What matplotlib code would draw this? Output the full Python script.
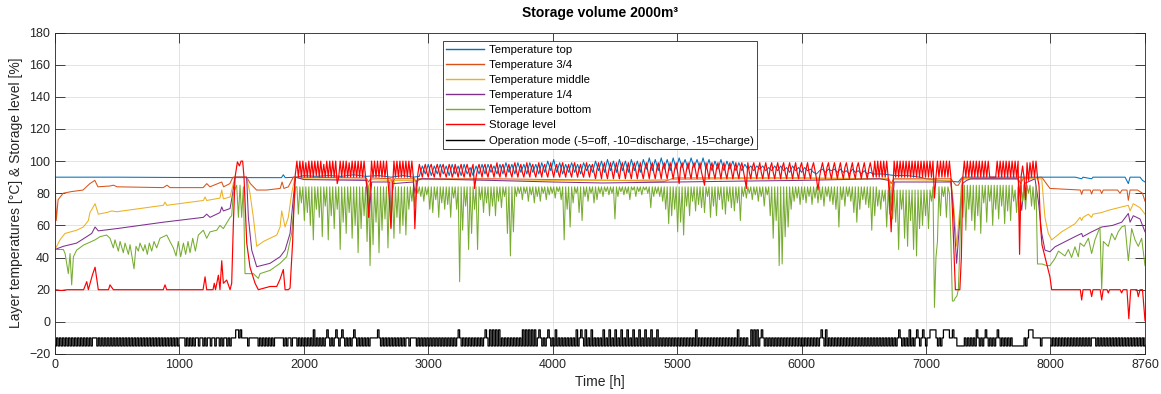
import numpy as np
import matplotlib.pyplot as plt

plt.rcParams['font.family'] = ['Liberation Sans', 'DejaVu Sans']

# ---------------------------------------------------------------------------
# Data.  Smooth parts are given as (hour, value) pairs,
# the parts that cycle every day are given as values on a fixed time step.
# ---------------------------------------------------------------------------

# Temperature top
top_h1 = [0, 500, 1000, 1500, 1820, 1835, 1850, 1944, 2000, 2100, 2200, 2300, 2400,
          2500, 2600, 2700, 2800, 2880, 2928]
top_v1 = [90, 90, 89.8, 89.7, 89.7, 91.5, 89.7, 90, 91, 90.5, 91, 90.5, 91.5,
          90.5, 91, 90, 91, 90, 90.5]
top_start, top_step = 2952, 24   # h
top_cycle = [
    97, 92, 98, 91, 97, 92, 98, 92, 97, 91,
    98, 92, 97, 91, 98, 92, 96, 91, 97, 92,
    98, 92, 98, 93, 97, 92, 98, 92, 99, 93,
    98, 92, 99, 93, 98, 92, 99, 93, 98, 92,
    99, 93, 100, 94, 101, 93, 99, 92, 98, 93,
    99, 93, 98, 92, 99, 94, 98, 93, 100, 94,
    100, 93, 101, 94, 100, 93, 101, 94, 100, 93,
    101, 94, 100, 93, 101, 95, 102, 94, 101, 94,
    102, 95, 101, 94, 102, 95, 102, 96, 101, 95,
    102, 96, 101, 95, 102, 95, 101, 94, 100, 95,
    101, 94, 100, 95, 100, 94, 99, 94, 98, 95,
    97, 94, 97, 95, 97, 94, 96, 94, 97, 94,
    97, 94, 96, 93, 97, 94, 96, 93, 96, 94,
    95, 93, 92, 94, 95, 93, 95, 94, 95, 93,
    95, 93, 94, 92, 95, 93, 94, 92, 94, 92,
    93, 92, 92]
top_h3 = [6650, 6700, 6750, 6850, 6950, 7000, 7100, 7200, 7260, 7292, 7400, 8200,
          8251, 8262, 8331, 8342, 8600, 8626, 8640, 8720, 8740, 8760]
top_v3 = [92, 91.5, 91, 91, 90, 89, 88, 87.5, 87, 90, 90, 90,
          89, 90, 89, 90, 90, 86, 90, 90, 88, 87]

# Temperature 3/4
q3_h = [0, 10, 25, 65, 130, 225, 280, 320, 345, 440, 470, 500, 870, 900, 925, 1190,
        1220, 1245, 1340, 1355, 1405, 1430, 1540, 1570, 1620, 1700, 1810, 1825, 1840,
        1875, 1915, 1944, 2500, 2520, 2540, 2700, 2710, 2730, 2890, 2900, 2920, 3500,
        4000, 4500, 4900, 4980, 5500, 6000, 6700, 6720, 6740, 7200, 7240, 7260, 7290,
        7740, 7760, 7780, 7930, 7996, 8240, 8251, 8262, 8320, 8331, 8342, 8400, 8412,
        8424, 8540, 8559, 8575, 8615, 8626, 8640, 8700, 8720, 8740, 8760]
q3_v = [90, 63, 76, 80, 81, 82, 86, 88, 84, 84.5, 85, 84, 83.5, 85, 83.5, 83.5,
        86, 84, 87, 84, 86, 90, 90, 86, 82, 82, 83, 87, 83,
        84, 90, 90, 89.5, 87, 89.5, 89, 86, 89, 89, 87, 89, 89,
        88.5, 88, 87.5, 89.5, 89.5, 89.5, 89, 86, 89, 89, 85, 85, 89,
        89, 86, 89, 90, 83, 82, 79.3, 82, 82, 79.5, 82, 82, 79.8,
        82, 82, 80, 82, 82, 75.6, 82, 82, 81, 80, 75]

# Temperature middle
mid_h = [0, 40, 80, 174, 228, 268, 281, 322, 348, 415, 456, 496, 871, 884, 898, 1192,
         1206, 1219, 1326, 1340, 1353, 1407, 1433, 1447, 1540, 1567, 1594, 1621, 1675,
         1782, 1809, 1822, 1849, 1875, 1902, 1929, 2000, 2500, 2520, 2540, 2700, 2710,
         2730, 2890, 2905, 2920, 3500, 4000, 4500, 5000, 5500, 6000, 6700, 6720, 6740,
         7200, 7220, 7247, 7260, 7292, 7740, 7755, 7770, 7930, 7956, 7983, 8010, 8090,
         8197, 8238, 8251, 8262, 8305, 8331, 8342, 8412, 8465, 8573, 8626, 8640, 8666,
         8720, 8760]
mid_v = [45, 51, 55, 57, 59, 63, 68, 73.5, 67, 68, 69, 68.5, 72.5, 74.5, 72.5, 75.5,
         77.7, 75.5, 77, 82, 76.5, 77.7, 86, 90, 90, 80, 65, 47, 50,
         54, 59, 69, 59, 65, 80, 90, 89, 88.5, 84, 88.5, 88, 80,
         88, 88, 84, 88.5, 88.5, 88, 88, 88.5, 89, 89, 89, 82, 88.5,
         88, 75, 47, 60, 89, 89, 80, 89, 89, 65, 55, 51, 56,
         61, 65, 63, 65, 67, 65, 67, 68, 69.4, 71.5, 72.5, 69, 73.5,
         71, 67]

# Temperature 1/4
q1_h = [0, 67, 174, 255, 295, 322, 348, 496, 871, 1192, 1219, 1246, 1326, 1340, 1353,
        1407, 1428, 1447, 1540, 1554, 1581, 1621, 1728, 1809, 1849, 1889, 1916, 1934,
        2000, 2500, 2525, 2545, 2690, 2700, 2715, 2880, 2893, 2910, 2950, 3500, 4000,
        4400, 5000, 5560, 6000, 6630, 6700, 6724, 6745, 7200, 7220, 7246, 7273, 7292,
        7327, 7360, 7740, 7769, 7790, 7876, 7903, 7930, 7956, 7996, 8037, 8197, 8251,
        8260, 8331, 8412, 8500, 8573, 8626, 8640, 8666, 8720, 8760]
q1_v = [45, 47, 49, 53, 55, 59, 56.6, 58, 62, 65, 67, 65, 68, 71.5, 69,
        70.5, 80, 90, 90, 65, 44.6, 34.3, 36.4, 40.5, 44.6, 55, 77.7, 90,
        88.5, 88, 65, 87, 87, 62, 86, 87, 80, 88, 89, 88, 87,
        86.4, 87, 87.6, 88, 89, 88, 69.4, 87, 87, 70, 36.4, 65, 86,
        88, 89, 89, 69.4, 86, 89, 75, 55, 44.6, 43.6, 46.7, 53, 55,
        53, 56, 59, 60, 62, 67.4, 62, 66, 64, 56]

# Temperature bottom
bot_h1 = [0, 67, 81, 107, 121, 134, 148, 174, 228, 322, 362, 415, 442, 469, 482, 509,
          523, 549, 563, 590, 603, 635, 651, 670, 683, 710, 723, 742, 758, 777, 796,
          817, 844, 898, 924, 951, 973, 991, 1010, 1032, 1050, 1069, 1085, 1107, 1128,
          1152, 1192, 1219, 1246, 1300, 1326, 1353, 1407, 1420, 1433, 1460, 1474, 1487,
          1500, 1514, 1527, 1594, 1621, 1634, 1648, 1728, 1809, 1862, 1902, 1934]
bot_v1 = [45, 45, 42.5, 30, 42.5, 23, 40.5, 44.6, 47.7, 51, 53, 54, 52, 46, 51, 44,
          50, 43, 49, 42, 48, 33, 47, 44, 49, 44, 48, 42, 49, 44, 50,
          46, 52, 54, 50, 46, 41, 50, 40.5, 49, 42, 50, 43, 52, 44,
          54, 57, 52, 56, 57, 60, 58, 65, 66, 80, 85, 65, 85,
          65, 84, 30, 30, 28, 27, 30, 32, 36.4, 40.5, 55, 84]
cyc_start, cyc_step = 1944, 12   # h, grid of the daily cycling parts
bot_cycle = [
    84, 67, 84, 74, 84, 63, 84, 68, 84, 60,
    84, 51, 84, 70, 84, 65, 84, 53, 84, 72,
    84, 51, 84, 66, 84, 58, 84, 70, 84, 45,
    84, 62, 84, 55, 84, 68, 84, 52, 84, 60,
    84, 43, 84, 58, 84, 66, 84, 50, 84, 35,
    80, 48, 84, 62, 84, 43, 84, 57, 84, 64,
    84, 46, 84, 59, 84, 52, 84, 65, 84, 55,
    84, 60, 84, 54, 84, 70, 84, 75, 84, 72,
    84, 80, 84, 78, 84, 75, 84, 79, 84, 70,
    84, 68, 84, 76, 84, 65, 84, 74, 84, 70,
    84, 73, 84, 65, 84, 77, 84, 70, 84, 25,
    84, 57, 84, 72, 84, 45, 84, 55, 84, 70,
    84, 45, 84, 76, 84, 68, 84, 74, 84, 66,
    84, 72, 84, 66, 84, 75, 84, 71, 84, 78,
    84, 55, 84, 41, 84, 56, 84, 78, 84, 80,
    84, 76, 84, 80, 84, 75, 84, 79, 84, 74,
    84, 78, 84, 75, 84, 80, 84, 76, 84, 79,
    84, 80, 84, 77, 84, 81, 84, 76, 84, 51,
    84, 70, 84, 59, 84, 74, 84, 80, 84, 68,
    84, 63, 84, 78, 84, 75, 84, 80, 84, 74,
    84, 76, 84, 80, 84, 78, 84, 81, 84, 79,
    84, 80, 84, 64, 84, 78, 84, 81, 84, 79,
    84, 80, 84, 76, 84, 82, 84, 78, 84, 81,
    84, 79, 84, 82, 84, 80, 84, 71, 84, 78,
    84, 80, 84, 78, 84, 75, 84, 70, 84, 61,
    84, 66, 84, 70, 84, 56, 84, 62, 84, 54,
    84, 72, 84, 66, 84, 75, 84, 69, 84, 73,
    84, 71, 84, 68, 84, 78, 84, 65, 84, 72,
    84, 66, 84, 76, 84, 70, 84, 67, 84, 75,
    84, 71, 84, 69, 84, 74, 84, 63, 84, 78,
    84, 77, 84, 80, 84, 76, 84, 79, 84, 75,
    84, 78, 84, 72, 84, 79, 84, 66, 84, 52,
    84, 63, 84, 35, 84, 36, 84, 53, 84, 59,
    84, 70, 84, 75, 84, 77, 84, 73, 84, 76,
    84, 74, 84, 78, 84, 73, 84, 77, 84, 74,
    84, 76, 84, 72, 84, 78, 84, 75, 84, 73,
    84, 70, 84, 59, 84, 76, 84, 72, 84, 78,
    84, 75, 84, 68, 84, 62, 84, 70, 84, 76,
    84, 73, 84, 71, 84, 57, 84, 66, 84, 72,
    82, 70, 82, 75, 82, 59, 82, 67, 82, 64,
    82, 62, 82, 45, 82, 70, 82, 52, 82, 47,
    82, 63, 82, 45, 82, 41, 82, 58, 82, 60,
    82, 66, 82, 58, 82, 75, 84, 9, 40, 50,
    84, 66, 84, 78, 84, 65, 84, 80, 50, 13,
    13, 15, 16, 20, 46, 85, 65, 85, 57, 85,
    70, 85, 63, 85, 57, 85, 66, 85, 55, 85,
    74, 85, 62, 85, 75, 85, 60, 85, 70, 85,
    64, 85, 72, 85, 61, 85, 69, 85, 63, 85,
    75, 82, 68, 84, 62, 85, 75, 85, 70, 85,
    80, 85, 72, 84, 70, 85, 36, 36, 36, 36]
bot_h3 = [7970, 7996, 8037, 8064, 8090, 8117, 8144, 8170, 8197, 8224, 8238, 8270,
          8305, 8331, 8358, 8398, 8412, 8425, 8465, 8492, 8519, 8545, 8572, 8599,
          8626, 8653, 8680, 8706, 8733, 8760]
bot_v3 = [35, 35, 39.5, 44, 42.5, 41, 45, 40, 46.7, 40.5, 49, 47,
          52, 42.5, 51, 59, 20, 50, 47, 55, 51, 56, 59, 60,
          38, 58, 51, 47, 52, 35]

# Storage level
lvl_h1 = [0, 50, 100, 230, 255, 268, 300, 322, 348, 430, 442, 469, 870, 884, 898,
          1190, 1206, 1219, 1270, 1280, 1290, 1313, 1326, 1340, 1353, 1380, 1407, 1420,
          1433, 1447, 1466, 1482, 1495, 1508, 1519, 1541, 1567, 1608, 1634, 1728, 1782,
          1809, 1835, 1849, 1875, 1889, 1910, 1929]
lvl_v1 = [20, 19.5, 20, 20, 25, 20, 29, 34, 20, 20, 23, 20, 20, 23, 20,
          20, 28, 20, 20, 24, 20, 29, 20, 38, 24, 26, 20, 24,
          60, 90, 99.5, 97, 100, 100, 90, 49, 34, 24, 20, 22, 22,
          26.6, 32.6, 20, 20, 21, 50, 90]
lvl_cycle = [
    100, 90, 100, 90, 100, 90, 99, 90, 100, 90,
    100, 90, 100, 91, 100, 90, 100, 90, 98, 90,
    100, 90, 100, 90, 100, 90, 100, 86, 90, 100,
    90, 100, 90, 100, 90, 99, 90, 100, 90, 100,
    90, 100, 90, 100, 90, 100, 90, 85, 65, 80,
    100, 90, 100, 90, 100, 90, 100, 90, 100, 90,
    100, 88, 75, 58, 82, 100, 90, 100, 90, 100,
    90, 100, 90, 100, 90, 100, 90, 100, 90, 58,
    80, 92, 98, 94, 90, 95, 98, 93, 90, 96,
    98, 93, 90, 95, 98, 94, 90, 96, 98, 93,
    90, 94, 98, 95, 90, 93, 98, 94, 90, 95,
    98, 93, 90, 95, 98, 94, 90, 95, 98, 83,
    90, 95, 98, 94, 90, 96, 98, 93, 90, 95,
    98, 94, 90, 95, 99, 93, 90, 96, 98, 94,
    90, 95, 98, 93, 90, 96, 99, 94, 90, 95,
    98, 93, 90, 95, 99, 94, 90, 96, 98, 93,
    90, 95, 99, 94, 90, 96, 98, 93, 90, 95,
    99, 94, 90, 95, 98, 93, 90, 96, 99, 94,
    90, 95, 98, 93, 90, 96, 99, 94, 90, 95,
    98, 93, 90, 95, 99, 94, 90, 96, 98, 93,
    89, 95, 99, 94, 89, 96, 99, 93, 89, 95,
    99, 94, 89, 95, 99, 93, 89, 96, 99, 94,
    89, 95, 99, 93, 89, 96, 99, 94, 89, 95,
    99, 93, 89, 95, 99, 94, 89, 96, 99, 93,
    89, 95, 99, 94, 89, 96, 99, 93, 89, 95,
    99, 94, 89, 95, 99, 93, 86, 96, 99, 94,
    89, 95, 99, 93, 89, 96, 99, 94, 89, 95,
    99, 93, 89, 85, 99, 94, 89, 96, 99, 93,
    89, 95, 99, 94, 89, 96, 99, 93, 89, 95,
    99, 94, 89, 95, 99, 93, 89, 96, 99, 94,
    89, 83, 99, 93, 89, 96, 99, 94, 89, 95,
    99, 93, 89, 95, 99, 94, 89, 96, 99, 93,
    89, 95, 99, 94, 89, 96, 99, 93, 89, 95,
    99, 94, 89, 95, 99, 93, 89, 96, 99, 94,
    89, 95, 99, 93, 89, 96, 99, 94, 89, 82,
    90, 95, 99, 94, 89, 96, 99, 93, 89, 95,
    99, 94, 89, 95, 99, 93, 89, 96, 99, 94,
    89, 95, 99, 93, 89, 96, 99, 94, 89, 95,
    99, 93, 89, 95, 99, 94, 90, 100, 90, 100,
    90, 100, 90, 100, 90, 100, 90, 75, 56, 80,
    100, 90, 100, 90, 100, 90, 100, 90, 100, 90,
    100, 90, 100, 90, 100, 90, 100, 90, 100, 90,
    100, 90, 100, 90, 100, 90, 100, 77, 90, 100,
    90, 100, 90, 100, 90, 100, 90, 100, 90, 70,
    45, 20, 20, 20, 20, 40, 90, 100, 90, 100,
    90, 100, 90, 100, 90, 100, 90, 100, 90, 100,
    90, 100, 90, 100, 90, 90, 90, 90, 90, 100,
    90, 100, 90, 100, 90, 100, 90, 100, 90, 100,
    90, 100, 90, 100, 42, 90, 97, 90, 76, 99,
    88, 99, 90, 100, 90, 100, 90, 85, 60, 48]
lvl_h3 = [7970, 7996, 8010, 8240, 8251, 8262, 8320, 8331, 8342, 8400, 8412, 8424,
          8455, 8465, 8475, 8560, 8572, 8584, 8615, 8630, 8645, 8695, 8706, 8720,
          8740, 8760]
lvl_v3 = [36, 28, 20, 20, 13.6, 20, 20, 15.7, 20, 20, 13.6, 20,
          20, 18, 20, 20, 18, 20, 20, 2, 20, 20, 15.7, 20,
          20, 0.8]

# Operation mode, one letter per 12 h: c = charge, d = discharge, o = off
op_step = 12
op_codes = "".join([
    "cdcdcdcdcd", "cdcdcdcdcd", "cd",
    "cdcddd",
    "cdcdcdcdcd", "cdcdcdcdcd", "cdcdcdcdcd", "cdcdcdcdcd", "cdcdcd",
    "cdcdcdcdcd", "dddcdcdcdc", "d",
    "dcddcdcddc", "ddcddcdcdd", "cdcd",
    "dd", "oodo", "ddddcdddddd",
    "cdcdcdcdcd", "cd",
    "dddddcdcddcddd",
    "cdcdcdcdcd", "cocdcdcdcd", "odcdcdodcd", "odcdcdcdod",
    "cdcdcdcdcd", "ddddodcdcd", "cdcdcdcdcd", "cdcddcdddd",
    "cdcdcdcdcd", "cdcdcdcdcd", "cdcdcdcdod", "cdcdcdcdcd", "cdcdcdodco",
    "cocococdcd", "cdcdcdcdcd", "cococococo", "cdodcdcdod", "cdcocdcdcd",
    "cdcdcdcocd", "odcocdcocd", "cdcd",
    "cocdcocdco", "cdcocdcocd", "cocdcocdco", "cdcocdcocd", "cd",
    "cdcdcdcdcd", "cdcdcdcdcd", "cocdcdcdcd", "cdcdcdcdcd", "cdcdcdcdco", "cdcdcdc",
    "cocococdod", "cdcdcd",
    "cdcdcdcdcd", "cdcdcdcdcd", "cdcdcdcdcd", "cdodcocdcd", "cdcdcdcdcd",
    "cdcdcdcdcd", "cdcdcdcdcd", "cdcdcdcdcd", "cdc",
    "dodcdcdcoc", "dcdodcdodc",
    "ddoooodcdc", "dooooddodd",
    "ccccc",
    "dcdcdcdcod", "cdcdodcdcd", "cdodcdcdcd", "cdc",
    "cccccccdc", "doood", "ddddcdddddd",
    "cdcdcdcdcd", "cdcdcdcdcd", "cdcdcdcddd", "cdcdcdcdcd", "cdcdcdcdcd",
    "cdcdcdcdcd", "cdcd",
])
op_levels = {'c': -15, 'd': -10, 'o': -5}

labels = ['Temperature top', 'Temperature 3/4', 'Temperature middle', 'Temperature 1/4',
          'Temperature bottom', 'Storage level',
          'Operation mode (-5=off, -10=discharge, -15=charge)']
colors = ['#0072BD', '#D95319', '#EDB120', '#7E2F8E', '#77AC30', '#FF0000', '#000000']

# ---------------------------------------------------------------------------
cyc_h = list(cyc_start + cyc_step * np.arange(len(bot_cycle)))
lvl_cyc_h = list(cyc_start + cyc_step * np.arange(len(lvl_cycle)))
top_cyc_h = list(top_start + top_step * np.arange(len(top_cycle)))

top_x = top_h1 + top_cyc_h + top_h3
top_y = top_v1 + top_cycle + top_v3
bot_x = bot_h1 + cyc_h + bot_h3
bot_y = bot_v1 + bot_cycle + bot_v3
lvl_x = lvl_h1 + lvl_cyc_h + lvl_h3
lvl_y = lvl_v1 + lvl_cycle + lvl_v3
op_x = op_step * np.arange(len(op_codes))
op_y = [op_levels[ch] for ch in op_codes]

fig = plt.figure(figsize=(11.61, 3.94), dpi=100)
ax = fig.add_axes([55 / 1161, 40 / 394, 1090 / 1161, 321.5 / 394])

lw = 0.75
ax.plot(top_x, top_y, color=colors[0], lw=lw, label=labels[0])
ax.plot(q3_h, q3_v, color=colors[1], lw=lw, label=labels[1])
ax.plot(mid_h, mid_v, color=colors[2], lw=lw, label=labels[2])
ax.plot(q1_h, q1_v, color=colors[3], lw=lw, label=labels[3])
ax.plot(bot_x, bot_y, color=colors[4], lw=lw, label=labels[4])
ax.plot(lvl_x, lvl_y, color=colors[5], lw=0.85, label=labels[5])
ax.plot(op_x, op_y, color=colors[6], lw=0.9, drawstyle='steps-post', label=labels[6])

ax.set_xlim(0, 8760)
ax.set_ylim(-20, 180)
ax.set_xticks([0, 1000, 2000, 3000, 4000, 5000, 6000, 7000, 8000, 8760])
ax.set_yticks(np.arange(-20, 181, 20))
ax.grid(True, color='#dedede', lw=0.6)
ax.set_axisbelow(True)
ax.tick_params(direction='in', length=7, width=0.6, colors='#262626', labelsize=9,
               top=True, right=True)
for s in ax.spines.values():
    s.set_color('#262626')
    s.set_linewidth(0.6)

ax.set_xlabel('Time [h]', fontsize=10, color='#262626', labelpad=3)
ax.set_ylabel('Layer temperatures [°C] & Storage level [%]', fontsize=10, color='#262626')
ax.set_title('Storage volume 2000m³', fontsize=10, fontweight='bold', pad=11)

leg = ax.legend(loc='upper center', bbox_to_anchor=(0.5, 0.99), fontsize=8.2,
                handlelength=3.3, handletextpad=0.4, labelspacing=0.45, borderpad=0.3,
                fancybox=False, framealpha=1, edgecolor='#262626')
leg.get_frame().set_linewidth(0.6)
for line in leg.get_lines():
    line.set_linewidth(1.0)

fig.savefig('out.png', dpi=100)
